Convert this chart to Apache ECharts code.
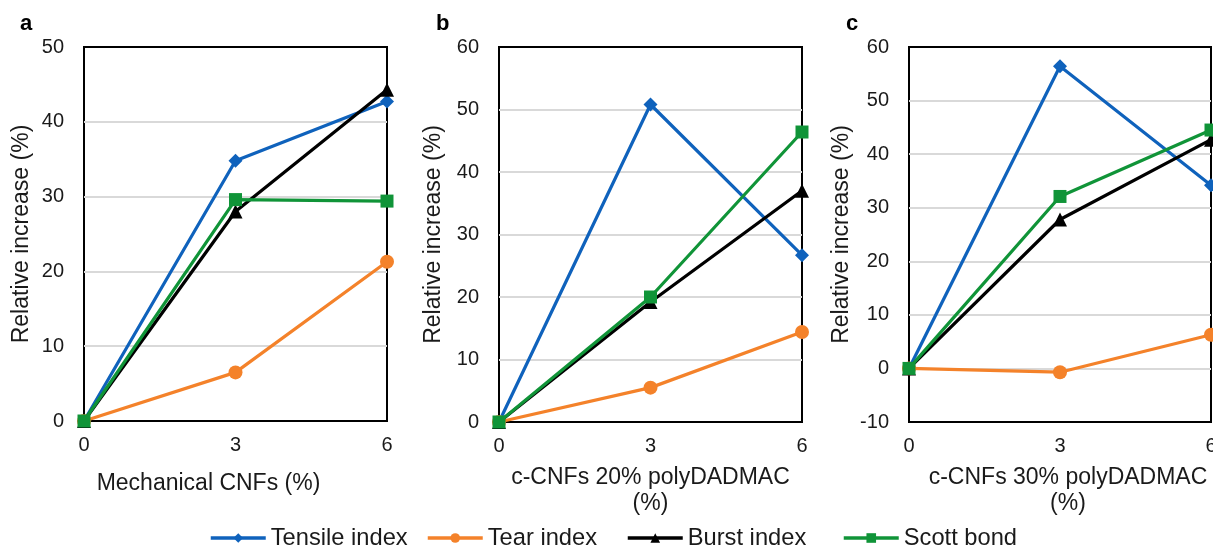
<!DOCTYPE html>
<html>
<head>
<meta charset="utf-8">
<script src="https://cdn.jsdelivr.net/npm/echarts@6/dist/echarts.min.js"></script>
<style>
  html, body { margin: 0; padding: 0; background: #fff; }
  #chart { width: 1213px; height: 547px; }
</style>
</head>
<body>
<div id="chart"></div>
<script>
// x positions (% CNF addition)
const xValues = [0, 3, 6];

const seriesNames = ['Tensile index', 'Tear index', 'Burst index', 'Scott bond'];

// panel a: mechanical CNFs
const tensileA = [0, 34.8, 42.7];
const tearA = [0, 6.5, 21.3];
const burstA = [0, 28.0, 44.3];
const scottA = [0, 29.6, 29.4];

// panel b: c-CNFs 20% polyDADMAC
const tensileB = [0, 50.8, 26.7];
const tearB = [0, 5.5, 14.4];
const burstB = [0, 19.2, 37.0];
const scottB = [0, 20.0, 46.4];

// panel c: c-CNFs 30% polyDADMAC
const tensileC = [0, 56.4, 34.2];
const tearC = [0, -0.7, 6.3];
const burstC = [0, 27.8, 42.7];
const scottC = [0, 32.1, 44.5];

const panelLetters = ['a', 'b', 'c'];
const xNames = ['Mechanical CNFs (%)', 'c-CNFs 20% polyDADMAC\n(%)', 'c-CNFs 30% polyDADMAC\n(%)'];
const yRanges = [[0, 50], [0, 60], [-10, 60]];

const FONT = 'Liberation Sans, Arial, sans-serif';
const colors = ['#0F62BC', '#F4822A', '#000000', '#109438'];
const symbols = ['diamond', 'circle', 'triangle', 'rect'];
const symbolSizes = [14, 14, 14, 13];

const panelData = [
    [tensileA, tearA, burstA, scottA],
    [tensileB, tearB, burstB, scottB],
    [tensileC, tearC, burstC, scottC]
];

const grids = [
    {left: 84, top: 47, width: 303, height: 374},
    {left: 499, top: 47, width: 303, height: 375},
    {left: 909, top: 47, width: 302, height: 375}
];
const yNameGaps = [51, 54, 56];
const xNameGaps = [50, 43, 43];
const xNamePads = [[0, 54, 0, 0], 0, [0, 0, 0, 16]];
const legendLefts = [209, 426, 626, 842];

let xAxes = [], yAxes = [], series = [], titles = [];

grids.forEach((g, i) => {
    g.show = true;
    g.borderColor = '#000';
    g.borderWidth = 2;
    g.containLabel = false;
    g.outerBoundsMode = 'none';

    xAxes.push({
        type: 'value', gridIndex: i, min: 0, max: 6, interval: 3,
        name: xNames[i], nameLocation: 'middle', nameGap: xNameGaps[i],
        nameTextStyle: {fontFamily: FONT, fontSize: 23, color: '#1a1a1a', lineHeight: 26,
            padding: xNamePads[i]},
        axisLine: {show: false}, axisTick: {show: false},
        splitLine: {show: false},
        axisLabel: {fontFamily: FONT, fontSize: 20, color: '#1a1a1a', margin: 14}
    });

    yAxes.push({
        type: 'value', gridIndex: i, min: yRanges[i][0], max: yRanges[i][1], interval: 10,
        name: 'Relative increase (%)', nameLocation: 'middle', nameGap: yNameGaps[i],
        nameTextStyle: {fontFamily: FONT, fontSize: 23, color: '#1a1a1a'},
        axisLine: {show: false}, axisTick: {show: false},
        splitLine: {show: true, showMinLine: false, showMaxLine: false,
            lineStyle: {color: '#D9D9D9', width: 2}},
        axisLabel: {fontFamily: FONT, fontSize: 20, color: '#1a1a1a', margin: 20}
    });

    panelData[i].forEach((vals, k) => {
        series.push({
            name: seriesNames[k],
            type: 'line',
            xAxisIndex: i, yAxisIndex: i,
            data: xValues.map((x, j) => [x, vals[j]]),
            symbol: symbols[k],
            symbolSize: symbolSizes[k],
            showAllSymbol: true,
            clip: false,
            z: 2 + k,
            lineStyle: {color: colors[k], width: 3.2},
            itemStyle: {color: colors[k], borderWidth: 0},
            emphasis: {disabled: true}
        });
    });

    titles.push({
        text: panelLetters[i],
        left: [15, 431, 841][i], top: 8,
        textStyle: {fontFamily: FONT, fontSize: 22, fontWeight: 'bold', color: '#000'}
    });
});

// one legend per item so each sits where the original puts it
let legends = seriesNames.map((name, k) => ({
    data: [name],
    left: legendLefts[k], top: 526,
    padding: 0,
    itemWidth: 55, itemHeight: 12,
    lineStyle: {width: 3.5},
    textStyle: {fontFamily: FONT, fontSize: 23.7, color: '#1a1a1a'}
}));

let myChart = echarts.init(document.getElementById('chart'), null, {renderer: 'canvas'});
myChart.setOption({
    animation: false,
    color: colors,
    title: titles,
    grid: grids,
    xAxis: xAxes,
    yAxis: yAxes,
    legend: legends,
    series: series
});
</script>
</body>
</html>
